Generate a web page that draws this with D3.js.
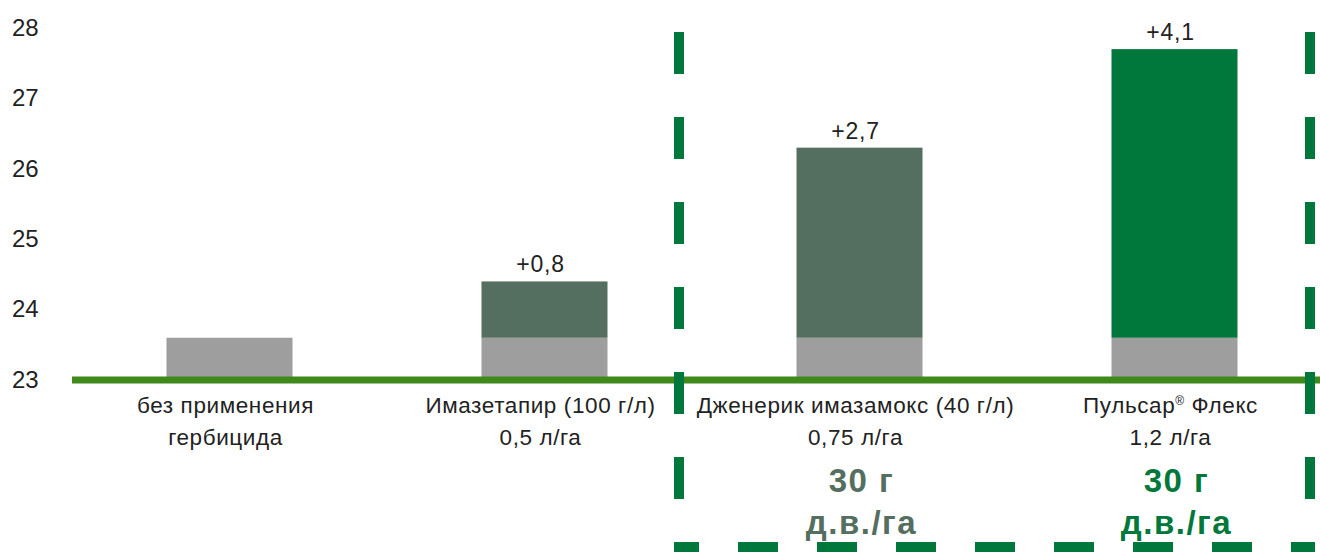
<!DOCTYPE html>
<html>
<head>
<meta charset="utf-8">
<script src="https://cdn.jsdelivr.net/npm/d3@7"></script>
<style>
  body { margin: 0; background: #fff; }
  svg { display: block; font-family: "Liberation Sans", Arial, sans-serif; }
</style>
</head>
<body>
<svg id="chart" width="1320" height="560"></svg>
<script>
const categories = ['без применения|гербицида', 'Имазетапир (100 г/л)|0,5 л/га', 'Дженерик имазамокс (40 г/л)|0,75 л/га', 'Пульсар® Флекс|1,2 л/га']
const baseValues = [23.6, 23.6, 23.6, 23.6]
const gainValues = [0, 0.8, 2.7, 4.1]
const gainLabels = ['', '+0,8', '+2,7', '+4,1']
const gainColors = ['#9e9e9e', '#546e5f', '#546e5f', '#00783c']
const doseLabels = ['', '', '30 г|д.в./га', '30 г|д.в./га']
const yTicks = [23, 24, 25, 26, 27, 28]

const width = 1320, height = 560
const svg = d3.select('#chart')

let x = d3.scaleBand()
    .domain(d3.range(categories.length))
    .range([72, 1332])
    .paddingInner(0.6)
    .paddingOuter(0.3)

let y = d3.scaleLinear()
    .domain([23, 28])
    .range([380, 28])

// y tick labels (no axis line)
let yAxis = d3.axisLeft(y).tickValues(yTicks).tickFormat(d3.format('d')).tickSize(0).tickPadding(0)
let gy = svg.append('g').attr('transform', 'translate(12,0)').call(yAxis)
gy.select('.domain').remove()
gy.selectAll('text')
    .attr('text-anchor', 'start')
    .attr('dy', '0.3em')
    .attr('font-size', 24)
    .attr('font-family', 'Liberation Sans, Arial, sans-serif')
    .attr('fill', '#222')

// bars: base part
svg.selectAll('rect.base')
    .data(baseValues)
    .join('rect')
    .attr('class', 'base')
    .attr('x', (d, i) => x(i))
    .attr('width', x.bandwidth())
    .attr('y', d => y(d))
    .attr('height', d => y(23) - y(d))
    .attr('fill', '#9e9e9e')

// bars: gain part
svg.selectAll('rect.gain')
    .data(gainValues)
    .join('rect')
    .attr('class', 'gain')
    .attr('x', (d, i) => x(i))
    .attr('width', x.bandwidth())
    .attr('y', (d, i) => y(baseValues[i] + d))
    .attr('height', (d, i) => y(baseValues[i]) - y(baseValues[i] + d))
    .attr('fill', (d, i) => gainColors[i])

// gain labels
svg.selectAll('text.gain')
    .data(gainLabels)
    .join('text')
    .attr('class', 'gain')
    .attr('x', (d, i) => x(i) + x.bandwidth() / 2 - 4)
    .attr('y', (d, i) => y(baseValues[i] + gainValues[i]) - 9)
    .attr('text-anchor', 'middle')
    .attr('font-size', 23)
    .attr('letter-spacing', 0.8)
    .attr('fill', '#222')
    .text(d => d)

// baseline
svg.append('line')
    .attr('x1', 72).attr('x2', width)
    .attr('y1', y(23)).attr('y2', y(23))
    .attr('stroke', '#3f8a1a')
    .attr('stroke-width', 7)

// category labels
categories.forEach((c, i) => {
    let lines = c.split('|')
    let cx = x(i) + x.bandwidth() / 2 - 4
    let t = svg.append('text')
        .attr('text-anchor', 'middle')
        .attr('font-size', 22.5)
        .attr('letter-spacing', 0.6)
        .attr('fill', '#222')
    lines.forEach((l, j) => {
        let ts = t.append('tspan').attr('x', cx).attr('y', 413 + j * 32)
        if (l.includes('®')) {
            let p = l.split('®')
            ts.append('tspan').text(p[0])
            ts.append('tspan').attr('font-size', 12).attr('dy', -8).text('®')
            ts.append('tspan').attr('dy', 8).text(p[1])
        } else {
            ts.text(l)
        }
    })
})

// dose labels
doseLabels.forEach((d, i) => {
    if (!d) return
    let parts = d.split('|')
    parts.forEach((p, j) => {
        svg.append('text')
            .attr('x', x(i) + x.bandwidth() / 2 + 2)
            .attr('y', 492 + j * 42)
            .attr('text-anchor', 'middle')
            .attr('font-size', 33)
            .attr('font-weight', 'bold')
            .attr('letter-spacing', 1.5)
            .attr('fill', gainColors[i])
            .text(p)
    })
})

// dashed frame around the two imazamox products
let frame = svg.append('g')
    .attr('stroke', '#00783c')
    .attr('stroke-width', 10)
    .attr('fill', 'none')
frame.append('line')
    .attr('x1', 679).attr('x2', 679).attr('y1', 32).attr('y2', 552)
    .attr('stroke-dasharray', '42,43')
frame.append('line')
    .attr('x1', 1310).attr('x2', 1310).attr('y1', 32).attr('y2', 552)
    .attr('stroke-dasharray', '42,43')
frame.append('line')
    .attr('x1', 674).attr('x2', 1315).attr('y1', 547).attr('y2', 547)
    .attr('stroke-dasharray', '40,39')
    .attr('stroke-dashoffset', 15)
</script>
</body>
</html>
